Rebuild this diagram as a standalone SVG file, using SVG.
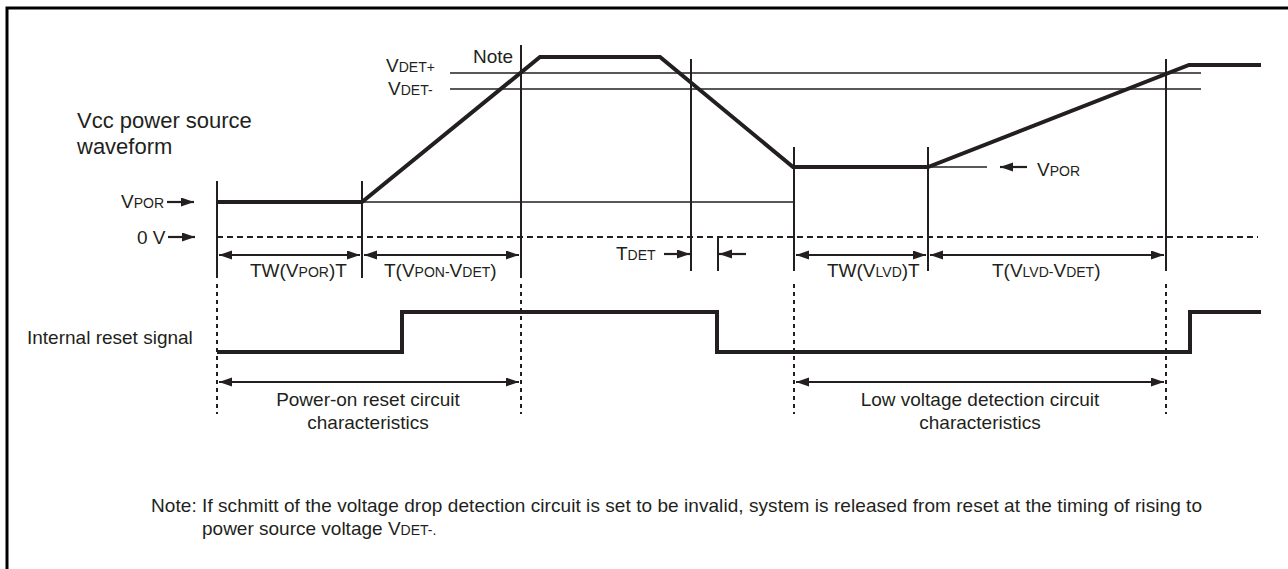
<svg xmlns="http://www.w3.org/2000/svg" width="1288" height="569" viewBox="0 0 1288 569">
<style>
text{font-family:"Liberation Sans",Arial,sans-serif;font-size:19px;fill:#231f20}
.t{font-size:22px}
.s{font-size:14px}
.wave{fill:none;stroke:#231f20;stroke-width:4;stroke-linejoin:miter}
.thin{fill:none;stroke:#231f20;stroke-width:1.6}
.vl{fill:none;stroke:#231f20;stroke-width:2}
.dash{fill:none;stroke:#231f20;stroke-width:2;stroke-dasharray:4 4}
.dot{fill:none;stroke:#231f20;stroke-width:2;stroke-dasharray:6 4}
.arr{fill:none;stroke:#231f20;stroke-width:2.2;marker-end:url(#ah)}
.darr{fill:none;stroke:#231f20;stroke-width:2.2;marker-start:url(#ah);marker-end:url(#ah)}
</style>
<defs>
<marker id="ah" markerUnits="userSpaceOnUse" markerWidth="14" markerHeight="10" refX="13" refY="4.5" orient="auto-start-reverse"><path d="M0,0 L13,4.5 L0,9 Z" fill="#231f20"/></marker>
</defs>
<path id="frame" d="M7,569 V8 H1288" fill="none" stroke="#000" stroke-width="3"/>
<g id="vcc-label"><text class="t" x="77" y="128">Vcc power source</text><text class="t" x="77" y="154">waveform</text></g>
<g id="levels">
<line class="thin" x1="450" y1="73" x2="1201" y2="73"/>
<line class="thin" x1="450" y1="89" x2="1201" y2="89"/>
<line class="thin" x1="362" y1="202" x2="794" y2="202"/>
<line class="thin" x1="928" y1="167" x2="987" y2="167"/>
<line class="dot" x1="217" y1="237" x2="1258" y2="237"/>
</g>
<g id="markers">
<line class="vl" x1="217" y1="181" x2="217" y2="278"/>
<line class="vl" x1="362" y1="181" x2="362" y2="278"/>
<line class="vl" x1="521" y1="45" x2="521" y2="278"/>
<line class="vl" x1="691" y1="59" x2="691" y2="271"/>
<line class="vl" x1="718" y1="237" x2="718" y2="271"/>
<line class="vl" x1="794" y1="147" x2="794" y2="271"/>
<line class="vl" x1="928" y1="147" x2="928" y2="271"/>
<line class="vl" x1="1166" y1="59" x2="1166" y2="271"/>
<line class="dash" x1="217" y1="284" x2="217" y2="414"/>
<line class="dash" x1="521" y1="284" x2="521" y2="414"/>
<line class="dash" x1="794" y1="284" x2="794" y2="414"/>
<line class="dash" x1="1166" y1="284" x2="1166" y2="414"/>
</g>
<g id="vcc-waveform"><path class="wave" d="M217,202 L362,202 L540,57 L660,57 L793,167 L928,167 L1189,65 L1261,65"/></g>
<g id="reset-waveform"><path class="wave" d="M217,352 H402 V312 H717 V352 H1190 V312 H1261"/></g>
<g id="level-labels">
<text x="121" y="208">V<tspan class="s">POR</tspan></text>
<text x="137" y="244">0 V</text>
<text x="386" y="72">V<tspan class="s">DET+</tspan></text>
<text x="388" y="95">V<tspan class="s">DET-</tspan></text>
<text x="473" y="63">Note</text>
<text x="1037" y="176">V<tspan class="s">POR</tspan></text>
</g>
<g id="connectors">
<line class="arr" x1="167" y1="202" x2="194" y2="202"/>
<line class="arr" x1="168" y1="237" x2="195" y2="237"/>
<line class="arr" x1="1027" y1="167" x2="1000" y2="167"/>
<line class="arr" x1="664" y1="254" x2="690" y2="254"/>
<line class="arr" x1="746" y1="254" x2="719" y2="254"/>
<line class="darr" x1="219" y1="255" x2="360" y2="255"/>
<line class="darr" x1="364" y1="255" x2="519" y2="255"/>
<line class="darr" x1="796" y1="255" x2="926" y2="255"/>
<line class="darr" x1="930" y1="255" x2="1164" y2="255"/>
<line class="darr" x1="219" y1="382" x2="519" y2="382"/>
<line class="darr" x1="796" y1="382" x2="1164" y2="382"/>
</g>
<g id="interval-labels">
<text x="250" y="277">TW(V<tspan class="s">POR</tspan>)T</text>
<text x="384" y="277">T(V<tspan class="s">PON-</tspan>V<tspan class="s">DET</tspan>)</text>
<text x="616" y="260">T<tspan class="s">DET</tspan></text>
<text x="827" y="277">TW(V<tspan class="s">LVD</tspan>)T</text>
<text x="992" y="277">T(V<tspan class="s">LVD-</tspan>V<tspan class="s">DET</tspan>)</text>
</g>
<g id="reset-label"><text x="27" y="344">Internal reset signal</text></g>
<g id="por-label"><text x="368" y="406" text-anchor="middle">Power-on reset circuit</text><text x="368" y="429" text-anchor="middle">characteristics</text></g>
<g id="lvd-label"><text x="980" y="406" text-anchor="middle">Low voltage detection circuit</text><text x="980" y="429" text-anchor="middle">characteristics</text></g>
<g id="note"><text x="151" y="512" textLength="1051">Note: If schmitt of the voltage drop detection circuit is set to be invalid, system is released from reset at the timing of rising to</text><text x="202" y="535">power source voltage V<tspan class="s">DET-.</tspan></text></g>
</svg>
